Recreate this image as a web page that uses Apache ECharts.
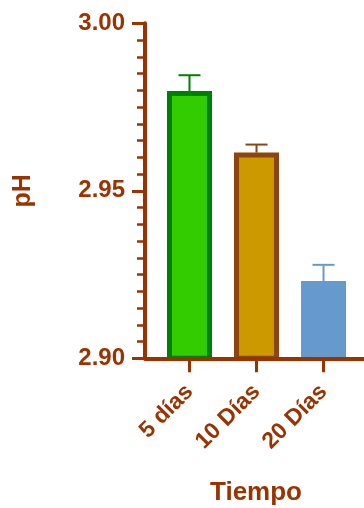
<!DOCTYPE html>
<html>
<head>
<meta charset="utf-8">
<script src="https://cdn.jsdelivr.net/npm/echarts@6/dist/echarts.min.js"></script>
<style>
html,body{margin:0;padding:0;background:#fff;}
#c{width:364px;height:508px;}
</style>
</head>
<body>
<div id="c"></div>
<script>
const categories = ['5 días', '10 Días', '20 Días'];
const means = [2.9798, 2.9614, 2.9231];
const errors = [0.0047, 0.0024, 0.0048];
const fills = ['#33CC00', '#CC9900', '#6699CC'];
const borders = ['#008000', '#8B4513', '#6699CC'];
const errColors = ['#008000', '#8B4513', '#6699CC'];
const yTicks = [2.90, 2.95, 3.00];

const axisColor = '#993300';
const font = "'Liberation Sans', Arial, sans-serif";
const positions = categories.map((c, i) => i);

const chart = echarts.init(document.getElementById('c'), null, {renderer: 'canvas'});

const barData = means.map((m, i) => ({
  value: [positions[i], m],
  itemStyle: {color: fills[i], borderColor: borders[i], borderWidth: 5}
}));
const errData = means.map((m, i) => [positions[i], m, errors[i]]);

chart.setOption({
  animation: false,
  grid: {left: 145, right: 0, top: 23.3, bottom: 149.7, containLabel: false, outerBoundsMode: 'none'},
  xAxis: {
    type: 'value',
    min: -0.664,
    max: 2.604,
    z: 10,
    splitLine: {show: false},
    axisLine: {show: true, onZero: false, lineStyle: {color: axisColor, width: 4}},
    axisTick: {show: true, customValues: positions, length: 14, lineStyle: {color: axisColor, width: 3}},
    axisLabel: {
      customValues: positions,
      formatter: v => categories[Math.round(v)],
      rotate: 45, margin: 30,
      color: axisColor, fontSize: 23, fontWeight: 'bold', fontFamily: font
    },
    name: 'Tiempo', nameLocation: 'middle', nameGap: 122,
    nameTextStyle: {color: axisColor, fontSize: 26, fontWeight: 'bold', fontFamily: font, padding: [0, 0, 0, 3]}
  },
  yAxis: {
    type: 'value',
    min: yTicks[0], max: yTicks[yTicks.length - 1], interval: 0.05,
    z: 10,
    splitLine: {show: false},
    axisLine: {show: true, onZero: false, lineStyle: {color: axisColor, width: 4}},
    axisTick: {show: true, length: 13, lineStyle: {color: axisColor, width: 3}},
    minorTick: {show: true, splitNumber: 10, length: 8, lineStyle: {color: axisColor, width: 2.5}},
    minorSplitLine: {show: false},
    axisLabel: {
      formatter: v => v.toFixed(2), margin: 20,
      color: axisColor, fontSize: 24, fontWeight: 'bold', fontFamily: font
    },
    name: 'pH', nameLocation: 'middle', nameRotate: 90, nameGap: 109,
    nameTextStyle: {color: axisColor, fontSize: 25, fontWeight: 'bold', fontFamily: font}
  },
  series: [
    {
      type: 'custom',
      z: 1,
      data: errData,
      renderItem: function (params, api) {
        const x = api.value(0), m = api.value(1), e = api.value(2);
        const p0 = api.coord([x, m]);
        const p1 = api.coord([x, m + e]);
        const col = errColors[params.dataIndex];
        const capHalf = 11;
        return {
          type: 'group',
          children: [
            {type: 'line', shape: {x1: p0[0], y1: p0[1], x2: p1[0], y2: p1[1]}, style: {stroke: col, lineWidth: 2}},
            {type: 'line', shape: {x1: p1[0] - capHalf, y1: p1[1], x2: p1[0] + capHalf, y2: p1[1]}, style: {stroke: col, lineWidth: 2}}
          ]
        };
      }
    },
    {
      type: 'bar',
      z: 2,
      barWidth: 45,
      data: barData
    }
  ]
});
</script>
</body>
</html>
